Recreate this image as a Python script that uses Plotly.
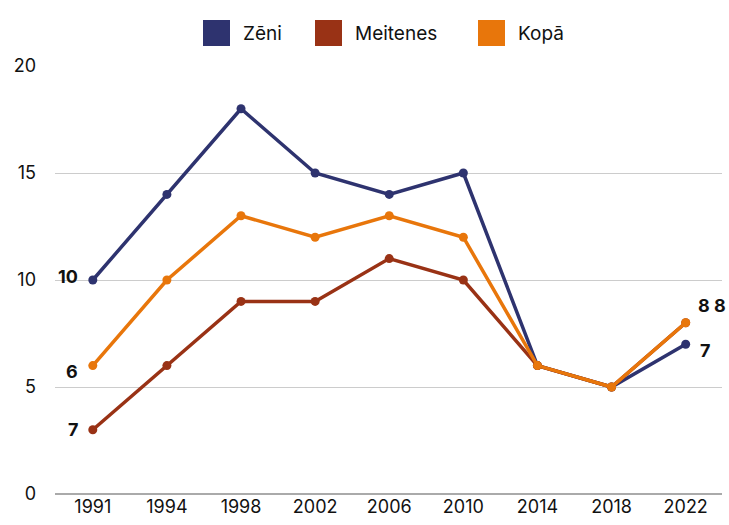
import plotly.graph_objects as go

years = ["1991", "1994", "1998", "2002", "2006", "2010", "2014", "2018", "2022"]
zeni = [10, 14, 18, 15, 14, 15, 6, 5, 7]
meitenes = [3, 6, 9, 9, 11, 10, 6, 5, 8]
kopa = [6, 10, 13, 12, 13, 12, 6, 5, 8]

names = ["Zēni", "Meitenes", "Kopā"]
colors = ["#2e336f", "#993215", "#e8760b"]

# labels shown at the line ends, as in the original
start_labels = ["10", "7", "6"]
end_labels = ["7", "8", "8"]

FONT = "Inter, Roboto, sans-serif"

fig = go.Figure()

# draw order: Zēni, Meitenes, Kopā on top
for name, vals, col in zip(names, [zeni, meitenes, kopa], colors):
    fig.add_trace(go.Scatter(x=years, y=vals, mode="lines+markers", name=name,
                             line=dict(color=col, width=3.5),
                             marker=dict(color=col, size=9),
                             showlegend=False, cliponaxis=False))

first, last = 0, len(years) - 1  # category indices

# start labels (left of 1991 points)
ann = []
for vals, lab, dy in zip([zeni, meitenes, kopa], start_labels, [4, 0, -6]):
    ann.append(dict(x=first, y=vals[0], text="<b>%s</b>" % lab, showarrow=False,
                    xanchor="right", xshift=-13, yshift=dy,
                    font=dict(family=FONT, size=18, color="#111111")))

# end labels (2022)
ann.append(dict(x=last, y=zeni[-1], text="<b>%s</b>" % end_labels[0], showarrow=False,
                xanchor="left", xshift=12, yshift=-6,
                font=dict(family=FONT, size=18, color="#111111")))
ann.append(dict(x=last, y=kopa[-1], text="<b>%s %s</b>" % (end_labels[1], end_labels[2]),
                showarrow=False, xanchor="left", xshift=10, yshift=17,
                font=dict(family=FONT, size=18, color="#111111")))

# manual legend with square swatches
L, R, T, B = 55, 7, 66, 31
pw, ph = 729 - L - R, 525 - T - B
def px(x):
    return (x - L) / pw
def py(y):
    return (525 - B - y) / ph

shapes = []
leg_x = [203, 315, 478]
for lx, name, col in zip(leg_x, names, colors):
    shapes.append(dict(type="rect", xref="paper", yref="paper",
                       x0=px(lx), x1=px(lx + 27), y0=py(46), y1=py(20),
                       fillcolor=col, line=dict(width=0)))
    ann.append(dict(xref="paper", yref="paper", x=px(lx + 38), y=py(33), text=name,
                    showarrow=False, xanchor="left", yanchor="middle",
                    font=dict(family=FONT, size=19, color="#111111")))

fig.update_layout(
    width=729, height=525,
    margin=dict(l=L, r=R, t=T, b=B),
    plot_bgcolor="white", paper_bgcolor="white",
    font=dict(family=FONT, size=18, color="#111111"),
    annotations=ann, shapes=shapes,
    xaxis=dict(type="category", range=[-0.51, 8.49], showgrid=False,
               showline=False, ticks="", tickfont=dict(size=18), automargin=False),
    yaxis=dict(range=[0, 20], tickvals=[0, 5, 10, 15, 20], showgrid=True,
               gridcolor="#cccccc", gridwidth=1, zeroline=True,
               zerolinecolor="#aaaaaa", zerolinewidth=2, automargin=False,
               ticks="", ticklabelstandoff=18, tickfont=dict(size=18)),
)

# drop the default page margin so the figure sits at the top-left corner
fig.write_html("out.html", config={"displayModeBar": False},
               post_script="document.body.style.margin='0px';")
